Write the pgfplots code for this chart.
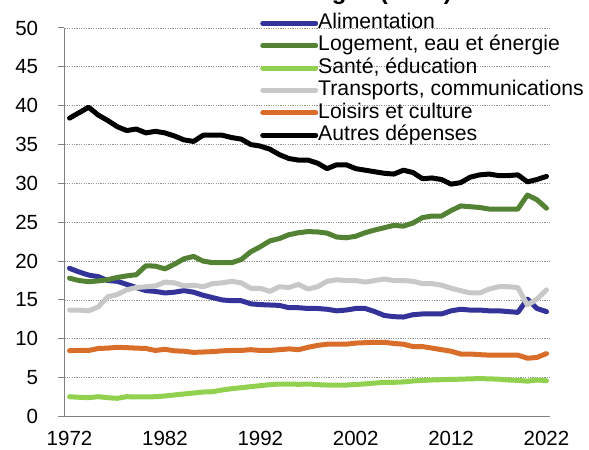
\documentclass[border=0pt]{standalone}
\usepackage{pgfplots}
\pgfplotsset{compat=1.18}
\usepackage{pgfplotstable}
\usepackage{fontspec}
\setmainfont{Liberation Sans}
\definecolor{cBlue}{RGB}{51,51,153}
\definecolor{cGreen}{RGB}{84,130,53}
\definecolor{cLight}{RGB}{146,208,80}
\definecolor{cGrey}{RGB}{200,200,200}
\definecolor{cOrange}{RGB}{217,110,42}
\definecolor{cAxis}{RGB}{128,128,128}
\newcommand{\chartfont}{\fontsize{20.5bp}{24bp}\selectfont}
\newcommand{\legfont}{\fontsize{21.2bp}{24bp}\selectfont}
\pgfplotstableread{
year alim loge sante trans lois autres
1972 19.07 17.8 2.55 13.7 8.47 38.4
1973 18.6 17.5 2.47 13.7 8.5 39.1
1974 18.2 17.35 2.42 13.6 8.5 39.8
1975 18.0 17.45 2.55 14.1 8.75 38.8
1976 17.5 17.6 2.42 15.4 8.8 38.1
1977 17.4 17.9 2.34 15.7 8.9 37.3
1978 17.0 18.1 2.55 16.3 8.86 36.8
1979 16.6 18.25 2.51 16.6 8.8 37.0
1980 16.2 19.4 2.51 16.7 8.75 36.5
1981 16.1 19.35 2.55 16.8 8.5 36.7
1982 15.9 19.0 2.64 17.3 8.65 36.5
1983 16.0 19.6 2.77 17.2 8.45 36.1
1984 16.2 20.3 2.90 16.8 8.4 35.6
1985 16.0 20.6 3.02 16.9 8.25 35.4
1986 15.6 20.0 3.15 16.7 8.3 36.2
1987 15.3 19.8 3.19 17.1 8.35 36.2
1988 15.0 19.8 3.41 17.2 8.45 36.2
1989 14.9 19.8 3.58 17.4 8.5 35.9
1990 14.9 20.2 3.71 17.2 8.5 35.7
1991 14.5 21.2 3.84 16.5 8.6 35.0
1992 14.4 21.85 3.97 16.5 8.5 34.8
1993 14.35 22.6 4.10 16.1 8.5 34.4
1994 14.3 22.9 4.18 16.7 8.6 33.7
1995 14.0 23.4 4.18 16.6 8.7 33.2
1996 14.0 23.65 4.14 17.0 8.6 33.0
1997 13.9 23.8 4.18 16.4 8.9 33.0
1998 13.9 23.75 4.10 16.7 9.15 32.6
1999 13.8 23.6 4.05 17.4 9.3 31.9
2000 13.6 23.1 4.05 17.6 9.3 32.4
2001 13.7 23.0 4.05 17.5 9.3 32.4
2002 13.9 23.2 4.12 17.5 9.45 31.9
2003 13.9 23.66 4.2 17.3 9.5 31.7
2004 13.5 24.0 4.3 17.5 9.55 31.5
2005 13.0 24.3 4.4 17.7 9.55 31.3
2006 12.85 24.6 4.4 17.5 9.4 31.2
2007 12.8 24.5 4.45 17.5 9.3 31.7
2008 13.1 24.9 4.57 17.4 9.0 31.4
2009 13.2 25.6 4.65 17.1 9.0 30.6
2010 13.2 25.8 4.7 17.1 8.8 30.7
2011 13.2 25.8 4.74 16.9 8.6 30.5
2012 13.6 26.5 4.78 16.5 8.4 29.9
2013 13.8 27.1 4.8 16.2 8.04 30.1
2014 13.7 27.0 4.85 15.9 8.04 30.8
2015 13.7 26.9 4.87 15.9 7.96 31.1
2016 13.6 26.7 4.85 16.4 7.9 31.2
2017 13.6 26.7 4.8 16.7 7.9 31.0
2018 13.5 26.7 4.7 16.7 7.9 31.0
2019 13.4 26.7 4.65 16.6 7.9 31.1
2020 15.1 28.5 4.55 14.35 7.5 30.2
2021 13.9 27.9 4.7 15.1 7.6 30.5
2022 13.5 26.8 4.6 16.3 8.1 30.9
}\data
\begin{document}
\begin{tikzpicture}
\begin{axis}[
  at={(64.3bp,33.5bp)}, anchor=south west,
  scale only axis, width=485.7bp, height=388.5bp,
  xmin=1971.45, xmax=2022.37, ymin=0, ymax=50,
  axis x line*=bottom, axis y line*=left,
  x axis line style={draw=cAxis, line width=1.8bp, -},
  y axis line style={draw=cAxis, line width=1.2bp, -},
  xtick={1972,1982,1992,2002,2012,2022},
  xticklabels={1972,1982,1992,2002,2012,2022},
  ytick={0,5,10,15,20,25,30,35,40,45,50},
  yticklabels={0,5,10,15,20,25,30,35,40,45,50},
  tick align=outside, major tick length=6bp,
  ytick style={draw=cAxis, line width=1bp},
  xtick style={draw=none},
  tick label style={font=\chartfont, text=black},
  yticklabel style={anchor=east, inner sep=0pt, xshift=-20bp},
  xticklabel style={anchor=north, inner sep=0pt, yshift=-8.5bp},
  ymajorgrids,
  major grid style={draw=gray!85, line width=0.8bp, dash pattern=on 1.2bp off 1.2bp},
  legend cell align=left,
  legend image code/.code={\draw[#1, line cap=round] (0bp,0bp) -- (53bp,0bp);},
  legend style={at={(0.403,1.0378)}, anchor=north west, draw=none, fill=none,
    inner sep=0pt, row sep=2.9bp, font=\legfont,
    nodes={inner sep=0pt, text height=15bp, text depth=4.5bp},
    /tikz/every even column/.append style={column sep=6bp}},
  every axis plot/.append style={line width=5bp, line join=round, line cap=round},
]
\addplot[cBlue] table[x=year, y=alim] {\data};
\addlegendentry{Alimentation}
\addplot[cGreen] table[x=year, y=loge] {\data};
\addlegendentry{Logement, eau et énergie}
\addplot[cLight] table[x=year, y=sante] {\data};
\addlegendentry{Santé, éducation}
\addplot[cGrey] table[x=year, y=trans] {\data};
\addlegendentry{Transports, communications}
\addplot[cOrange] table[x=year, y=lois] {\data};
\addlegendentry{Loisirs et culture}
\addplot[black] table[x=year, y=autres] {\data};
\addlegendentry{Autres dépenses}
\end{axis}
\node[anchor=base east, inner sep=0pt, font=\fontsize{24bp}{28bp}\selectfont\bfseries] at (452bp,450.5bp) {Consommation des ménages (en \%)};
\pgfresetboundingbox
\useasboundingbox (0,0) rectangle (589bp,450bp);
\end{tikzpicture}
\end{document}
